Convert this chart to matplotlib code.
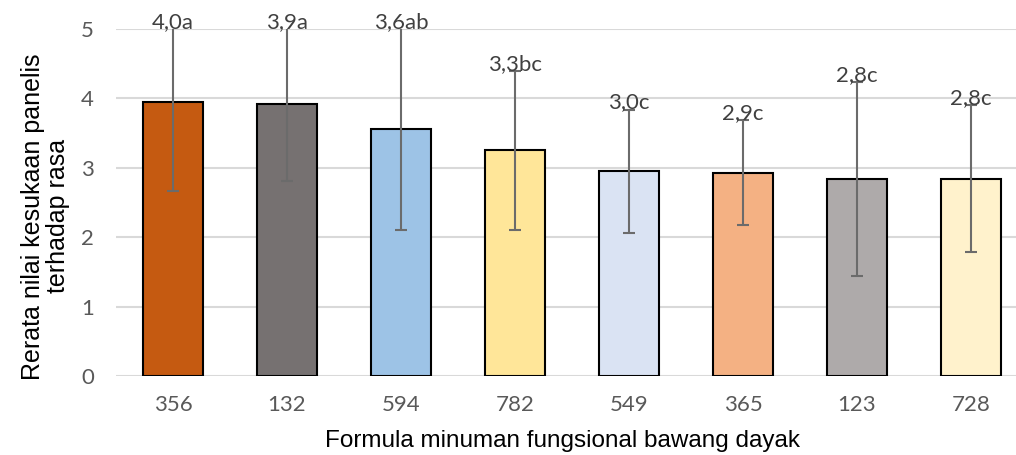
import numpy as np
import matplotlib.pyplot as plt

# data
formulas = ["356", "132", "594", "782", "549", "365", "123", "728"]
means = [3.95, 3.92, 3.56, 3.25, 2.95, 2.93, 2.84, 2.84]
sds = [1.29, 1.11, 1.46, 1.14, 0.89, 0.76, 1.40, 1.06]
labels = ["4,0a", "3,9a", "3,6ab", "3,3bc", "3,0c", "2,9c", "2,8c", "2,8c"]
colors = ["#C55A11", "#767171", "#9DC3E6", "#FFE699",
          "#DAE3F3", "#F4B183", "#AEAAAA", "#FFF2CC"]

tick_font = ["Lato", "DejaVu Sans"]
title_font = ["Liberation Sans", "DejaVu Sans"]

fig = plt.figure(figsize=(10.16, 4.55), dpi=100)
ax = fig.add_axes([116 / 1016, 79 / 455, 912 / 1016, 347 / 455])

x = np.arange(len(formulas))
ax.bar(x, means, width=0.52, color=colors, edgecolor="black", linewidth=1.5, zorder=3)
ax.errorbar(x, means, yerr=sds, fmt="none", ecolor="#6B6B6B", elinewidth=1.5,
            capsize=4.5, capthick=1.5, zorder=4)

ymax = 5
for xi, m, s, lab in zip(x, means, sds, labels):
    top = min(m + s, ymax)
    ax.annotate(lab, (xi, top), xytext=(0, 5), textcoords="offset points",
                ha="center", va="center", fontsize=16, color="#404040",
                family=tick_font, annotation_clip=False, zorder=5)

ax.set_xlim(-0.5, len(formulas) - 0.5)
ax.set_ylim(0, ymax)
ax.set_yticks(range(0, 6))
ax.set_xticks(x)
ax.set_xticklabels(formulas)
ax.grid(axis="y", color="#D9D9D9", linewidth=1.5, zorder=0)
for sp in ax.spines.values():
    sp.set_visible(False)
ax.tick_params(length=0, labelsize=16, labelcolor="#595959")
ax.tick_params(axis="y", pad=16)
ax.tick_params(axis="x", pad=14)
for t in ax.get_xticklabels() + ax.get_yticklabels():
    t.set_family(tick_font)

ax.set_xlabel("Formula minuman fungsional bawang dayak", fontsize=17.5,
              family=title_font)
ax.set_ylabel("Rerata nilai kesukaan panelis\nterhadap rasa", fontsize=18,
              family=title_font, linespacing=1.05)
ax.xaxis.set_label_coords(0.49, -0.187)
ax.xaxis.label.set_va("center")
ax.yaxis.set_label_coords(-0.077, 0.46)
ax.yaxis.label.set_va("center")

fig.savefig("out.png", dpi=100)
